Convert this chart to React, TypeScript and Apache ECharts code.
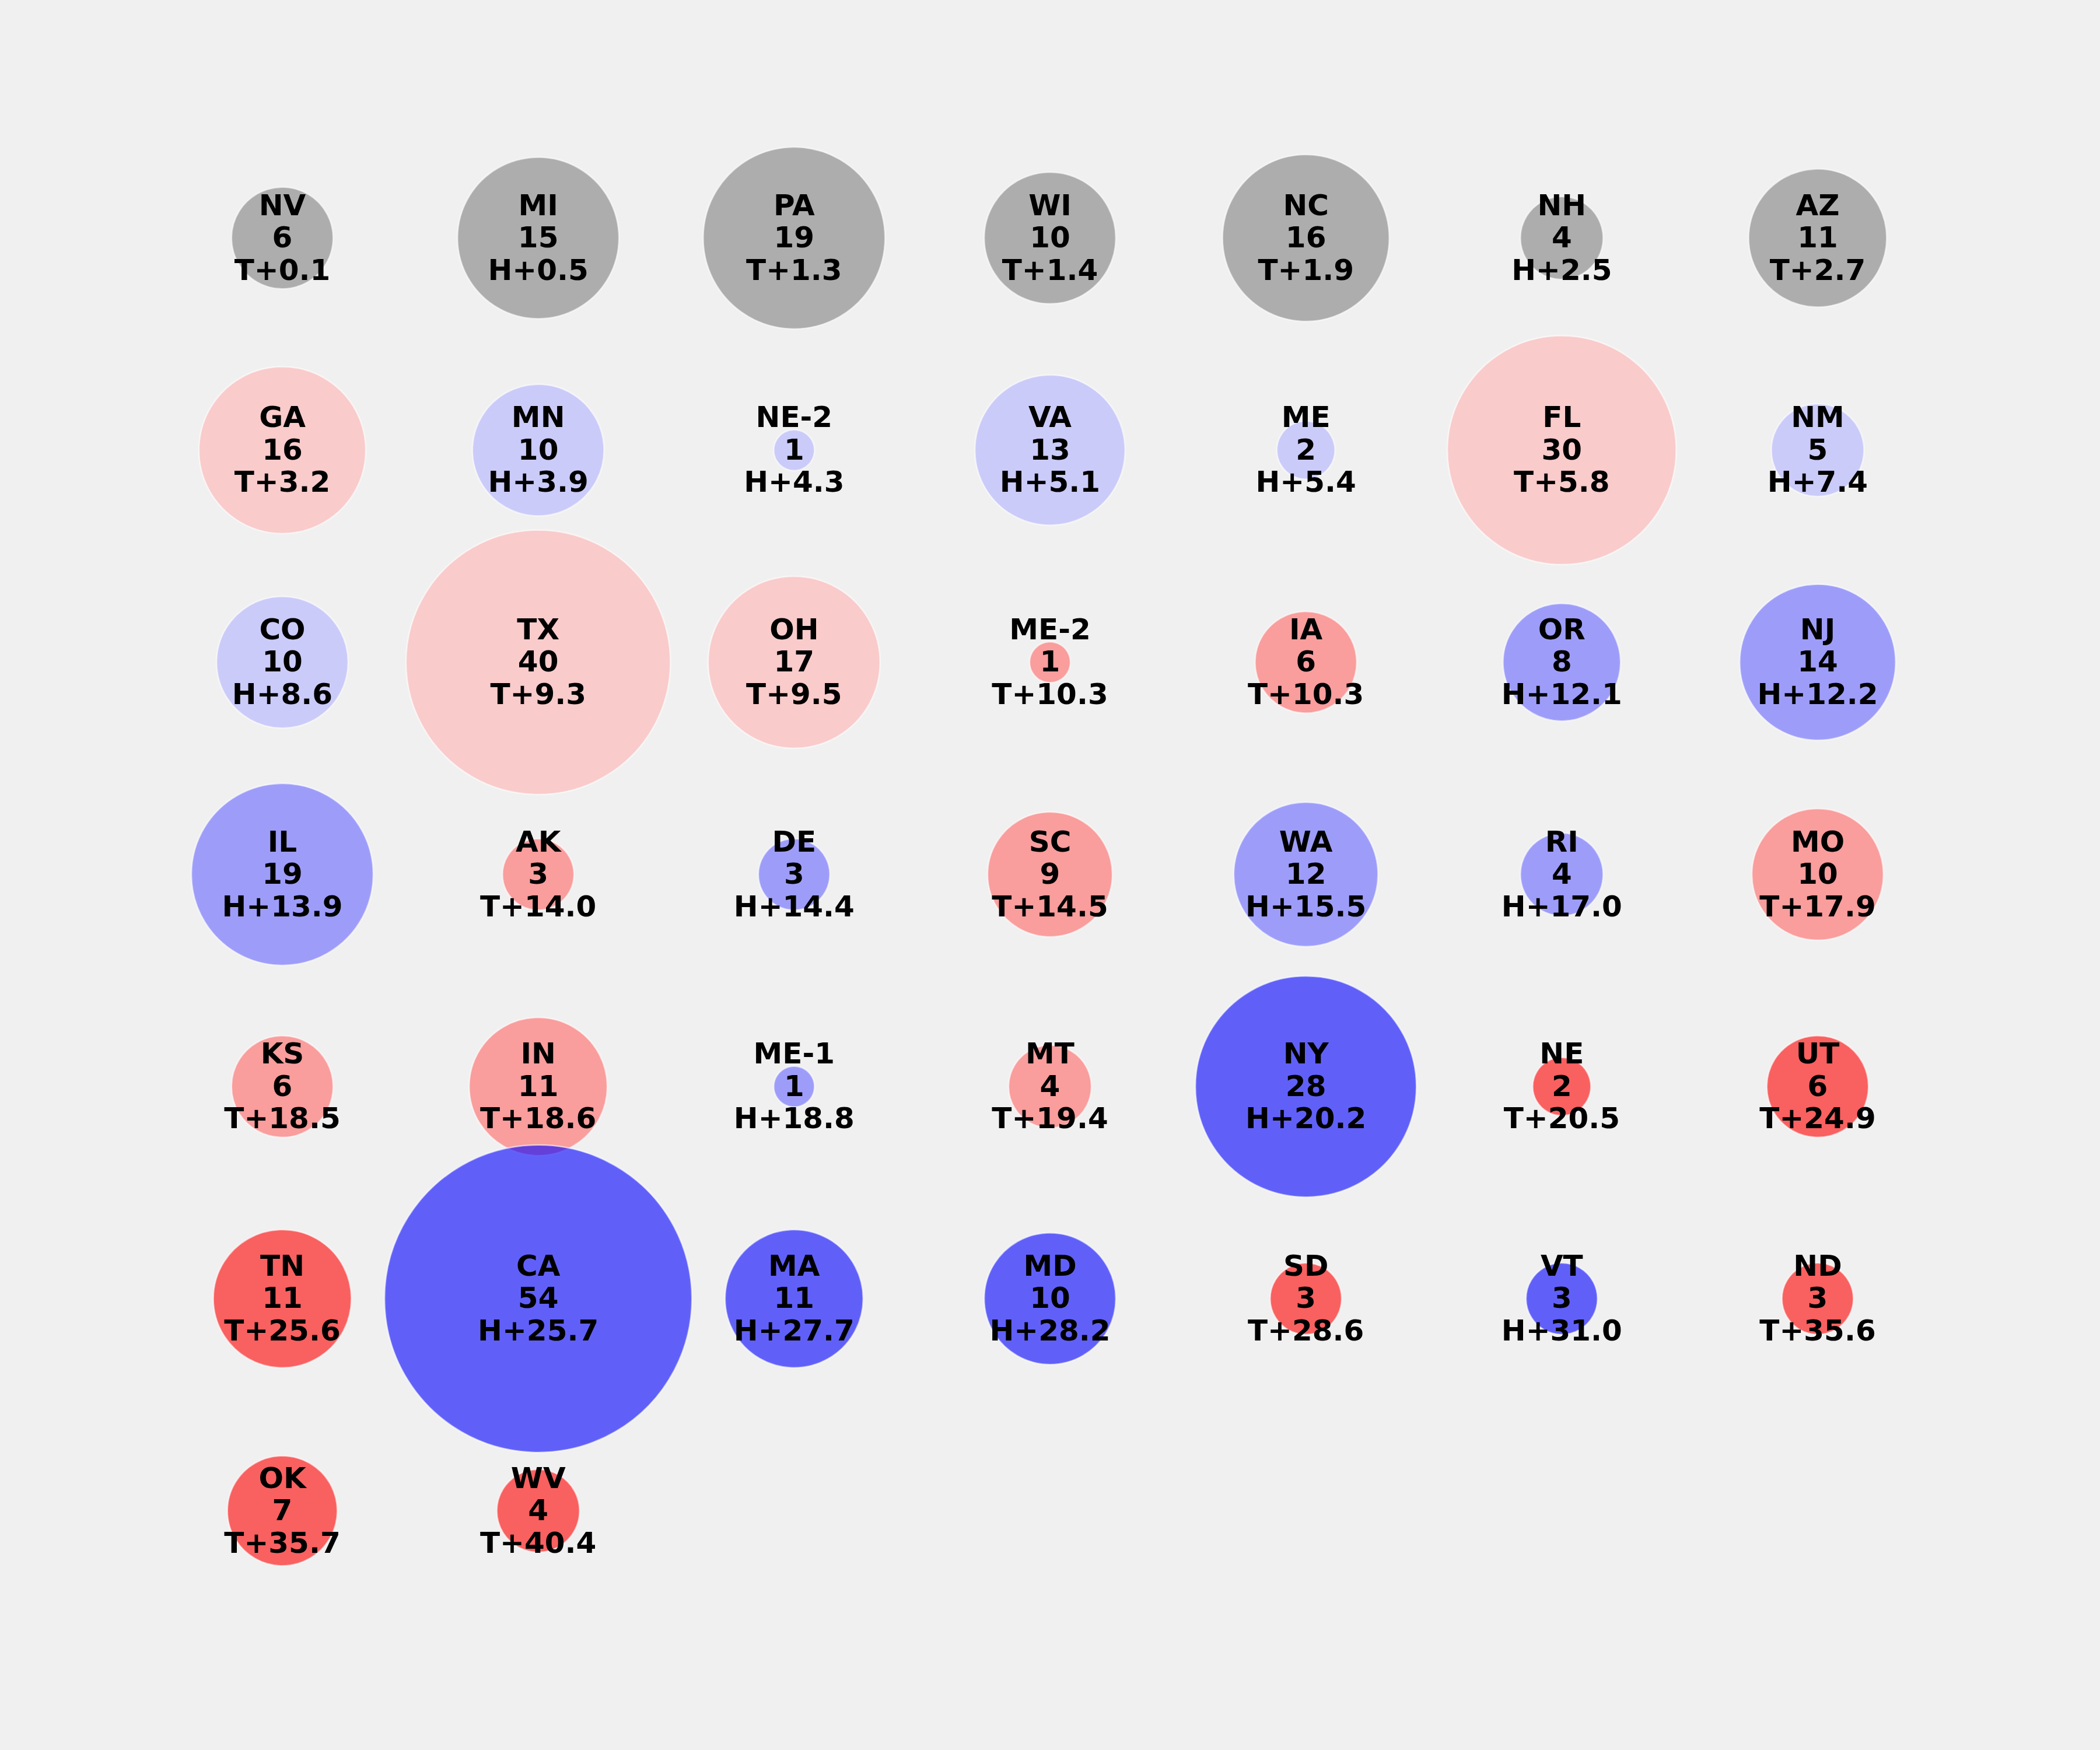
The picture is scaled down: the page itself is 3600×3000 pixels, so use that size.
import React, { useEffect, useRef } from "react";
import * as echarts from "echarts";

const states = [
  "NV", "MI", "PA", "WI", "NC", "NH", "AZ",
  "GA", "MN", "NE-2", "VA", "ME", "FL", "NM",
  "CO", "TX", "OH", "ME-2", "IA", "OR", "NJ",
  "IL", "AK", "DE", "SC", "WA", "RI", "MO",
  "KS", "IN", "ME-1", "MT", "NY", "NE", "UT",
  "TN", "CA", "MA", "MD", "SD", "VT", "ND",
  "OK", "WV",
];
const votes = [
  6, 15, 19, 10, 16, 4, 11,
  16, 10, 1, 13, 2, 30, 5,
  10, 40, 17, 1, 6, 8, 14,
  19, 3, 3, 9, 12, 4, 10,
  6, 11, 1, 4, 28, 2, 6,
  11, 54, 11, 10, 3, 3, 3,
  7, 4,
];
const leaders = [
  "T", "H", "T", "T", "T", "H", "T",
  "T", "H", "H", "H", "H", "T", "H",
  "H", "T", "T", "T", "T", "H", "H",
  "H", "T", "H", "T", "H", "H", "T",
  "T", "T", "H", "T", "H", "T", "T",
  "T", "H", "H", "H", "T", "H", "T",
  "T", "T",
];
const margins = [
  0.1, 0.5, 1.3, 1.4, 1.9, 2.5, 2.7,
  3.2, 3.9, 4.3, 5.1, 5.4, 5.8, 7.4,
  8.6, 9.3, 9.5, 10.3, 10.3, 12.1, 12.2,
  13.9, 14.0, 14.4, 14.5, 15.5, 17.0, 17.9,
  18.5, 18.6, 18.8, 19.4, 20.2, 20.5, 24.9,
  25.6, 25.7, 27.7, 28.2, 28.6, 31.0, 35.6,
  35.7, 40.4,
];

const NCOLS = 7;

function colorFor(leader: string, m: number): string {
  if (m < 3) return "rgba(128,128,128,0.6)";
  if (leader === "T") {
    if (m < 10) return "rgba(255,179,179,0.6)";
    if (m < 20) return "rgba(255,102,102,0.6)";
    return "rgba(255,0,0,0.6)";
  }
  if (m < 10) return "rgba(179,179,255,0.6)";
  if (m < 20) return "rgba(102,102,255,0.6)";
  return "rgba(0,0,255,0.6)";
}

export default function App() {
  const ref = useRef<HTMLDivElement>(null);
  useEffect(() => {
    if (!ref.current) return;
    const chart = echarts.init(ref.current, null, { renderer: "svg" });
    const data = states.map((s, i) => ({
      value: [i % NCOLS, Math.floor(i / NCOLS)],
      name: s,
      symbolSize: 72 * Math.sqrt(votes[i]) - 2,
      itemStyle: {
        color: colorFor(leaders[i], margins[i]),
        borderColor: "rgba(255,255,255,0.6)",
        borderWidth: 2.5,
        opacity: 1,
      },
      label: {
        formatter: `${s}\n${votes[i]}\n${leaders[i]}+${margins[i].toFixed(1)}`,
      },
    }));
    chart.setOption({
      animation: false,
      backgroundColor: "#f0f0f0",
      grid: { left: 484, top: 408, width: 2632, height: 2182 },
      xAxis: { type: "value", min: 0, max: 6, show: false },
      yAxis: { type: "value", min: 0, max: 6, inverse: true, show: false },
      series: [
        {
          type: "scatter",
          symbol: "circle",
          data,
          itemStyle: { opacity: 1 },
          label: {
            show: true,
            position: "inside",
            offset: [0, -1],
            color: "#000000",
            opacity: 1,
            fontFamily: "DejaVu Sans",
            fontWeight: "bold",
            fontSize: 50,
            lineHeight: 55.5,
            align: "center",
          },
          emphasis: { disabled: true },
        },
      ],
    });
    return () => chart.dispose();
  }, []);
  return (
    <div
      ref={ref}
      style={{ position: "fixed", left: 0, top: 0, width: 3600, height: 3000 }}
    />
  );
}
